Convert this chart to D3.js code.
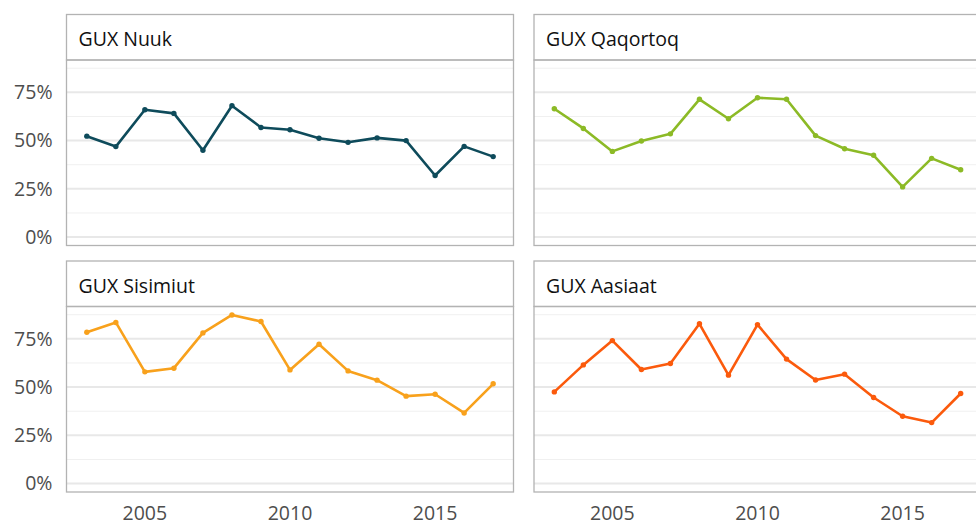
<!DOCTYPE html>
<html>
<head>
<meta charset="utf-8">
<script src="https://cdn.jsdelivr.net/npm/d3@7"></script>
<style>
  html, body { margin: 0; padding: 0; background: #fff; overflow: hidden; }
  svg { display: block; font-family: "Open Sans", sans-serif; }
</style>
</head>
<body>
<svg id="chart" width="976" height="525"></svg>
<script>
'use strict';
// Data
const years = d3.range(2003, 2018);
const stations = ['GUX Nuuk', 'GUX Qaqortoq', 'GUX Sisimiut', 'GUX Aasiaat'];
const colors = ['#0e4b5b', '#8cba26', '#f8a11c', '#fb5a0c'];
const nuuk = [52.3, 46.9, 66.0, 64.1, 45.0, 68.1, 56.8, 55.6, 51.2, 49.1, 51.4, 50.0, 31.9, 47.0, 41.7];
const qaqortoq = [66.5, 56.3, 44.4, 49.8, 53.5, 71.4, 61.3, 72.2, 71.4, 52.6, 45.8, 42.4, 26.0, 40.8, 34.9];
const sisimiut = [78.4, 83.5, 57.9, 59.8, 78.1, 87.4, 84.0, 58.9, 72.2, 58.4, 53.6, 45.3, 46.3, 36.6, 51.7];
const aasiaat = [47.5, 61.5, 74.1, 59.1, 62.2, 82.8, 56.2, 82.4, 64.5, 53.7, 56.7, 44.6, 34.9, 31.6, 46.7];
const series = [nuuk, qaqortoq, sisimiut, aasiaat];
const yTicks = [0, 0.25, 0.5, 0.75];
const xTicks = [2005, 2010, 2015];

const svg = d3.select('#chart');

// Layout
const colX = [66.5, 534];
const rowY = [14.5, 261];
const panelW = 447;
const stripH = 45.5;
const plotH = 185.5;

const ymax = d3.max(series.flat()) / 100;
const x = d3.scaleLinear().domain([2003 - 0.7, 2017 + 0.7]).range([0, panelW]);
const y = d3.scaleLinear().domain([-0.05 * ymax, ymax * 1.05]).range([plotH, 0]);
const minorTicks = d3.range(0.125, y.domain()[1], 0.25);

stations.forEach((name, i) => {
  const col = i % 2, row = Math.floor(i / 2);
  const g = svg.append('g').attr('transform', `translate(${colX[col]},${rowY[row]})`);

  // Strip
  g.append('rect')
    .attr('x', 0).attr('y', 0).attr('width', panelW).attr('height', stripH)
    .attr('fill', '#fff').attr('stroke', '#b3b3b3').attr('stroke-width', 1.3);
  g.append('text')
    .attr('x', 12).attr('y', stripH / 2 + 9)
    .attr('font-size', 19.5).attr('fill', '#111')
    .text(name);

  const p = g.append('g').attr('transform', `translate(0,${stripH})`);

  // Grid
  p.selectAll('.minor').data(minorTicks).enter().append('line')
    .attr('x1', 0).attr('x2', panelW)
    .attr('y1', d => y(d)).attr('y2', d => y(d))
    .attr('stroke', '#f0f0f0').attr('stroke-width', 1);
  p.selectAll('.major').data(yTicks).enter().append('line')
    .attr('x1', 0).attr('x2', panelW)
    .attr('y1', d => y(d)).attr('y2', d => y(d))
    .attr('stroke', '#e8e8e8').attr('stroke-width', 2);

  // Line + points
  const vals = series[i].map((v, k) => ({year: years[k], value: v / 100}));
  p.append('path').datum(vals)
    .attr('fill', 'none').attr('stroke', colors[i]).attr('stroke-width', 2.6)
    .attr('stroke-linejoin', 'round')
    .attr('d', d3.line().x(d => x(d.year)).y(d => y(d.value)));
  p.selectAll('circle').data(vals).enter().append('circle')
    .attr('cx', d => x(d.year)).attr('cy', d => y(d.value)).attr('r', 2.7)
    .attr('fill', colors[i]);

  // Panel border
  p.append('rect')
    .attr('x', 0).attr('y', 0).attr('width', panelW).attr('height', plotH)
    .attr('fill', 'none').attr('stroke', '#b3b3b3').attr('stroke-width', 1.3);

  // Y axis labels on left column
  if (col === 0) {
    p.selectAll('.ylab').data(yTicks).enter().append('text')
      .attr('x', -14).attr('y', d => y(d)).attr('dy', '0.35em')
      .attr('text-anchor', 'end').attr('font-size', 19.5).attr('fill', '#4d4d4d')
      .text(d3.format('.0%'));
  }
  // X axis labels on bottom row
  if (row === 1) {
    p.selectAll('.xlab').data(xTicks).enter().append('text')
      .attr('x', d => x(d)).attr('y', plotH + 28)
      .attr('text-anchor', 'middle').attr('font-size', 19.5).attr('fill', '#4d4d4d')
      .text(d => d);
  }
});
</script>
</body>
</html>
